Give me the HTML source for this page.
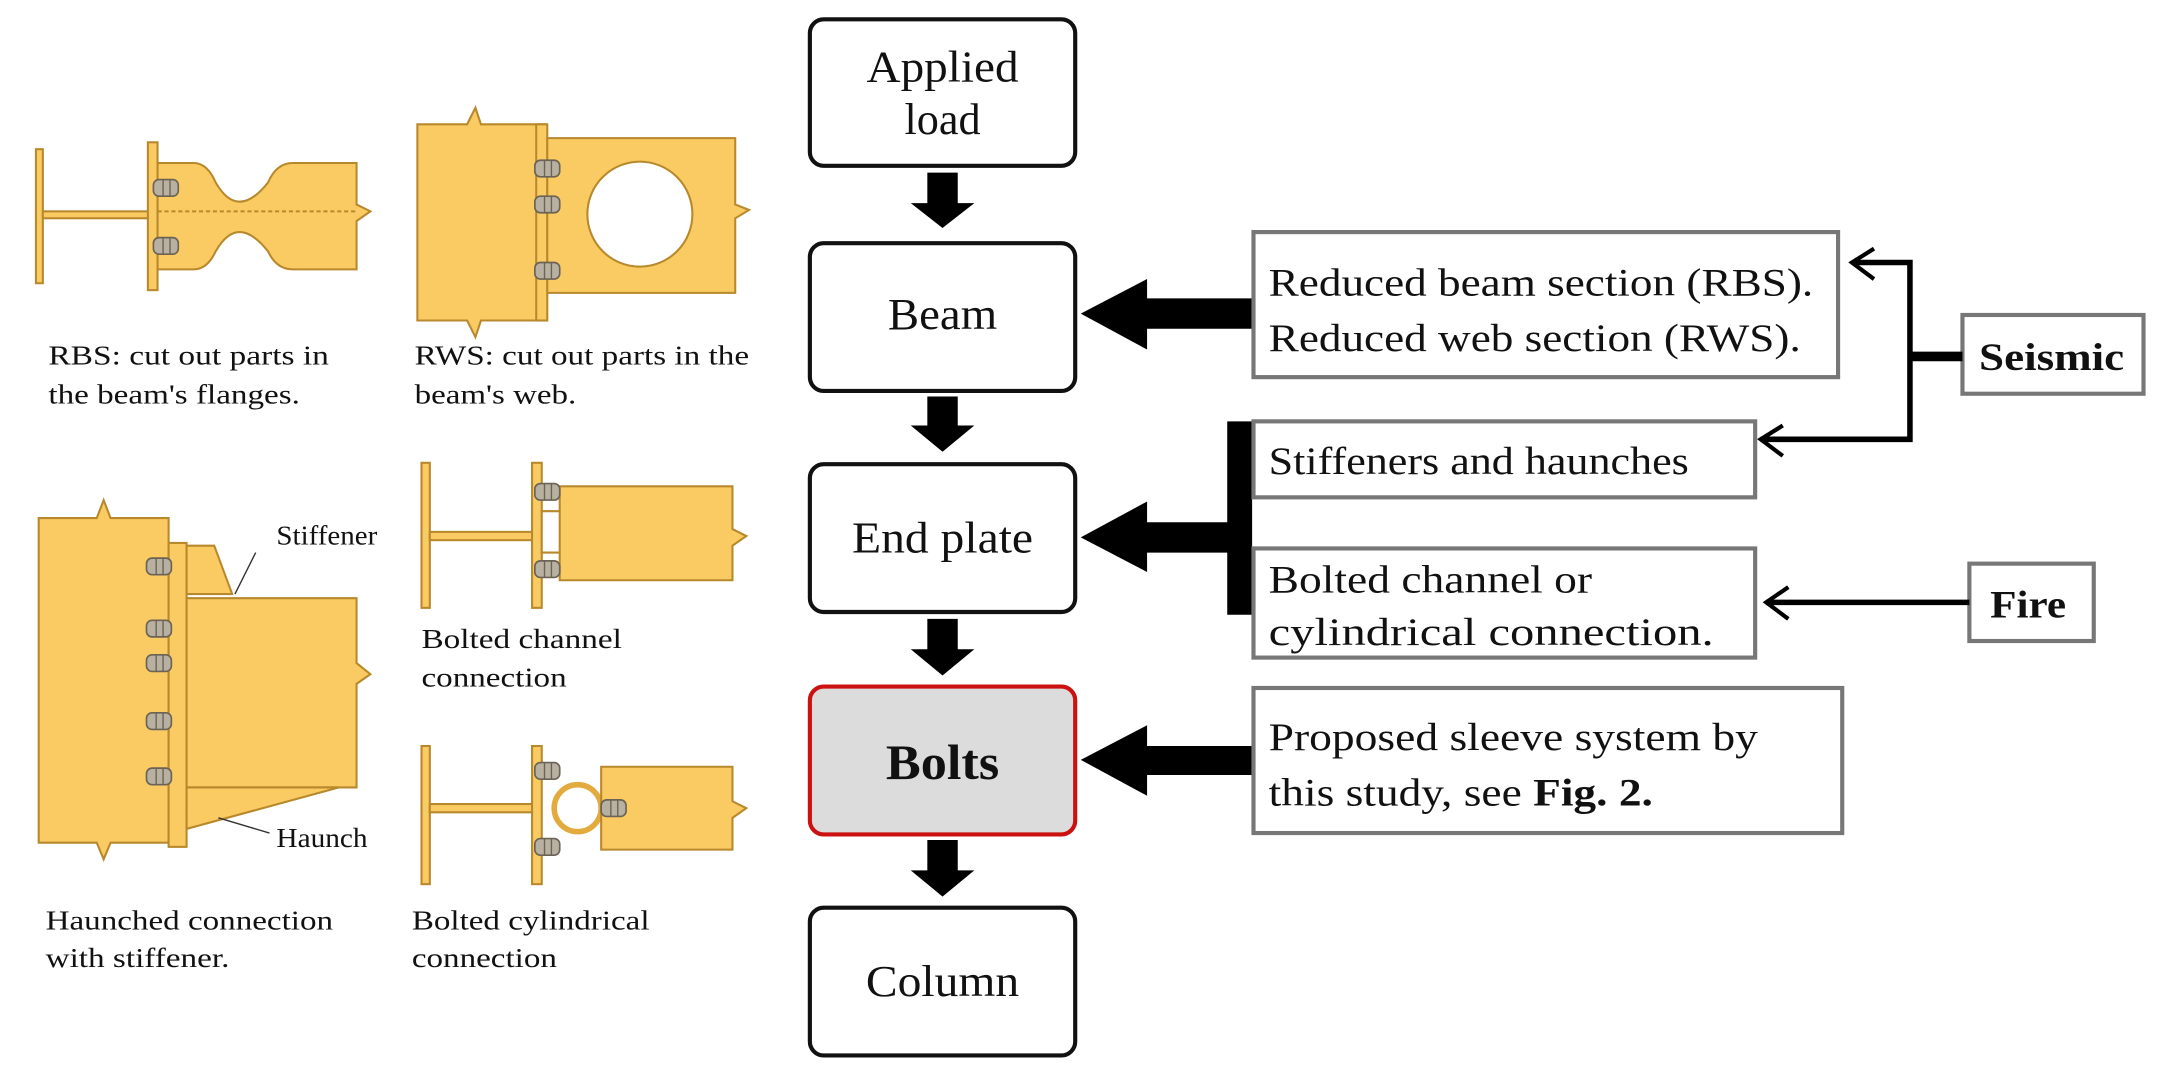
<!DOCTYPE html>
<html><head><meta charset="utf-8"><style>
html,body{margin:0;padding:0;background:#fff;}
svg{display:block;}
text{font-family:"Liberation Serif",serif;fill:#111;}
</style></head><body>
<svg width="2167" height="1090" viewBox="0 0 1568 789" preserveAspectRatio="none" xmlns="http://www.w3.org/2000/svg">
<defs>
<g id="bolt"><rect x="-9" y="-6" width="18" height="12" rx="4" fill="#b8b0a0" stroke="#6b6355" stroke-width="1.2"/><line x1="-2" y1="-6" x2="-2" y2="6" stroke="#6b6355"/><line x1="3" y1="-6" x2="3" y2="6" stroke="#6b6355"/></g>
</defs>
<g fill="#fbcb63" stroke="#b8882c" stroke-width="1.5">
<rect x="26" y="108" width="5" height="97"/>
<rect x="31" y="153" width="77" height="5"/>
<rect x="107" y="103" width="7" height="107"/>
<path d="M114,118 L140,118 Q150,118 156,132 Q172,160 194,132 Q200,118 212,118 L258,118 L258,148 L268,153 L258,160 L258,195 L212,195 Q200,195 194,182 Q172,154 156,182 Q150,195 140,195 L114,195 Z"/>
<line x1="114" y1="153" x2="258" y2="153" stroke-dasharray="3,2"/>
<path d="M302,90 L338,90 L344,78 L348,90 L395,90 L395,232 L348,232 L344,244 L338,232 L302,232 Z"/>
<rect x="388" y="90" width="8" height="142"/>
<path d="M396,100 L532,100 L532,148 L542,152 L532,158 L532,212 L396,212 Z"/>
<circle cx="463" cy="155" r="38" fill="#fff"/>
<path d="M28,375 L70,375 L75,362 L80,375 L122,375 L122,610 L80,610 L75,622 L70,610 L28,610 Z"/>
<rect x="122" y="393" width="13" height="220"/>
<path d="M135,395 L155,395 L168,430 L135,430 Z"/>
<path d="M135,433 L258,433 L258,480 L268,488 L258,495 L258,570 L135,570 Z"/>
<path d="M135,570 L245,570 L135,600 Z"/>
<rect x="305" y="335" width="6" height="105"/>
<rect x="311" y="385" width="75" height="6"/>
<rect x="385" y="335" width="7" height="105"/>
<path d="M392,370 L410,370 L410,400 L392,400 Z" fill="#fff"/>
<path d="M405,352 L530,352 L530,383 L540,388 L530,395 L530,420 L405,420 Z"/>
<rect x="305" y="540" width="6" height="100"/>
<rect x="311" y="582" width="75" height="6"/>
<rect x="385" y="540" width="7" height="100"/>
<circle cx="418" cy="585" r="17" fill="#fff" stroke-width="4" stroke="#e3aa3e"/>
<path d="M435,555 L530,555 L530,580 L540,585 L530,592 L530,615 L435,615 Z"/>
</g>
<g>
<use href="#bolt" x="120" y="136"/><use href="#bolt" x="120" y="178"/>
<use href="#bolt" x="396" y="122"/><use href="#bolt" x="396" y="148"/><use href="#bolt" x="396" y="196"/>
<use href="#bolt" x="115" y="410"/><use href="#bolt" x="115" y="455"/><use href="#bolt" x="115" y="480"/><use href="#bolt" x="115" y="522"/><use href="#bolt" x="115" y="562"/>
<use href="#bolt" x="396" y="356"/><use href="#bolt" x="396" y="412"/>
<use href="#bolt" x="396" y="558"/><use href="#bolt" x="396" y="613"/><use href="#bolt" x="444" y="585"/>
</g>
<path d="M170,430 L185,400" stroke="#333" fill="none"/>
<path d="M158,592 L195,603" stroke="#333" fill="none"/>
<g font-size="20" lengthAdjust="spacingAndGlyphs">
<text x="200" y="394" textLength="73" lengthAdjust="spacingAndGlyphs">Stiffener</text>
<text x="200" y="613" textLength="66" lengthAdjust="spacingAndGlyphs">Haunch</text>
<text x="35" y="264" textLength="203" lengthAdjust="spacingAndGlyphs">RBS: cut out parts in</text>
<text x="35" y="292" textLength="182" lengthAdjust="spacingAndGlyphs">the beam's flanges.</text>
<text x="300" y="264" textLength="242" lengthAdjust="spacingAndGlyphs">RWS: cut out parts in the</text>
<text x="300" y="292" textLength="117" lengthAdjust="spacingAndGlyphs">beam's web.</text>
<text x="305" y="469" textLength="145" lengthAdjust="spacingAndGlyphs">Bolted channel</text>
<text x="305" y="497" textLength="105" lengthAdjust="spacingAndGlyphs">connection</text>
<text x="33" y="673" textLength="208" lengthAdjust="spacingAndGlyphs">Haunched connection</text>
<text x="33" y="700" textLength="133" lengthAdjust="spacingAndGlyphs">with stiffener.</text>
<text x="298" y="673" textLength="172" lengthAdjust="spacingAndGlyphs">Bolted cylindrical</text>
<text x="298" y="700" textLength="105" lengthAdjust="spacingAndGlyphs">connection</text>
</g>
<g stroke="#111" stroke-width="3" fill="#fff">
<rect x="586" y="14" width="192" height="106" rx="10"/>
<rect x="586" y="176" width="192" height="107" rx="10"/>
<rect x="586" y="336" width="192" height="107" rx="10"/>
<rect x="586" y="497" width="192" height="107" rx="10" fill="#dcdcdc" stroke="#cc1111"/>
<rect x="586" y="657" width="192" height="107" rx="10"/>
</g>
<g font-size="32" text-anchor="middle">
<text x="682" y="59" textLength="110" lengthAdjust="spacingAndGlyphs">Applied</text>
<text x="682" y="97">load</text>
<text x="682" y="238" textLength="79" lengthAdjust="spacingAndGlyphs">Beam</text>
<text x="682" y="400" textLength="131" lengthAdjust="spacingAndGlyphs">End plate</text>
<text x="682" y="564" font-weight="bold" font-size="36" textLength="82" lengthAdjust="spacingAndGlyphs">Bolts</text>
<text x="682" y="721" textLength="111" lengthAdjust="spacingAndGlyphs">Column</text>
</g>
<g fill="#000">
<path d="M671,125 L693,125 L693,147 L705,147 L682,165 L659,147 L671,147 Z"/>
<path d="M671,287 L693,287 L693,308 L705,308 L682,327 L659,308 L671,308 Z"/>
<path d="M671,448 L693,448 L693,470 L705,470 L682,489 L659,470 L671,470 Z"/>
<path d="M671,608 L693,608 L693,630 L705,630 L682,649 L659,630 L671,630 Z"/>
<path d="M907,216 L830,216 L830,202 L782,227 L830,253 L830,238 L907,238 Z"/>
<path d="M888,305 L906,305 L906,445 L888,445 L888,400 L830,400 L830,414 L782,389 L830,363 L830,378 L888,378 Z"/>
<path d="M907,540 L830,540 L830,525 L782,550 L830,576 L830,561 L907,561 Z"/>
</g>
<g stroke="#777" stroke-width="3" fill="#fff">
<rect x="907" y="168" width="423" height="105"/>
<rect x="907" y="305" width="363" height="55"/>
<rect x="907" y="397" width="363" height="79"/>
<rect x="907" y="498" width="426" height="105"/>
<rect x="1420" y="228" width="131" height="57"/>
<rect x="1425" y="408" width="90" height="56"/>
</g>
<g font-size="28">
<text x="918" y="214" textLength="394" lengthAdjust="spacingAndGlyphs">Reduced beam section (RBS).</text>
<text x="918" y="254" textLength="385" lengthAdjust="spacingAndGlyphs">Reduced web section (RWS).</text>
<text x="918" y="343" textLength="304" lengthAdjust="spacingAndGlyphs">Stiffeners and haunches</text>
<text x="918" y="429" textLength="234" lengthAdjust="spacingAndGlyphs">Bolted channel or</text>
<text x="918" y="467" textLength="322" lengthAdjust="spacingAndGlyphs">cylindrical connection.</text>
<text x="918" y="543" textLength="354" lengthAdjust="spacingAndGlyphs">Proposed sleeve system by</text>
<text x="918" y="583" textLength="278" lengthAdjust="spacingAndGlyphs">this study, see <tspan font-weight="bold">Fig. 2.</tspan></text>
<text x="1432" y="268" font-weight="bold" textLength="105" lengthAdjust="spacingAndGlyphs">Seismic</text>
<text x="1440" y="447" font-weight="bold" textLength="55" lengthAdjust="spacingAndGlyphs">Fire</text>
</g>
<g stroke="#000" fill="none">
<line x1="1420" y1="258" x2="1382" y2="258" stroke-width="7"/>
<polyline points="1342,190 1382,190 1382,318 1274,318" stroke-width="4"/>
<line x1="1425" y1="436" x2="1278" y2="436" stroke-width="4"/>
<polyline points="1356,180 1340,190 1356,202" stroke-width="3"/>
<polyline points="1290,308 1274,318 1290,330" stroke-width="3"/>
<polyline points="1294,425 1278,436 1294,448" stroke-width="3"/>
</g>
</svg>
</body></html>
